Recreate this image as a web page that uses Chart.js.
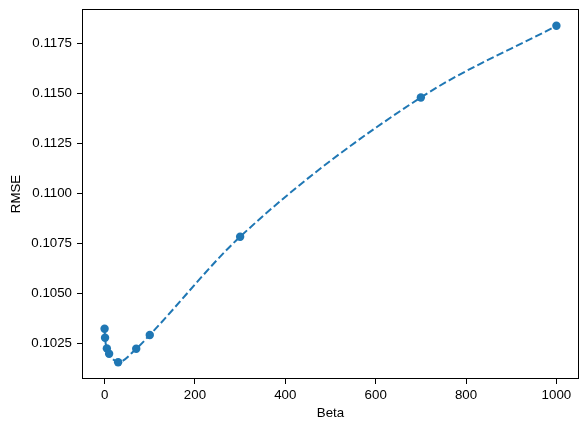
<!DOCTYPE html>
<html>
<head>
<meta charset="utf-8">
<script src="https://cdn.jsdelivr.net/npm/chart.js@4/dist/chart.umd.min.js"></script>
<style>
    html, body { margin: 0; padding: 0; background: #ffffff; }
    #wrap { width: 587px; height: 432px; }
</style>
</head>
<body>
<div id="wrap"><canvas id="chart" width="587" height="432"></canvas></div>
<script>
// Values
var beta = [0, 1, 5, 10, 30, 70, 100, 300, 700, 1000];
var rmse = [0.10323, 0.10278, 0.10225, 0.10198, 0.10156, 0.10223, 0.10292, 0.10783, 0.11479, 0.11837];

var x_ticks = [0, 200, 400, 600, 800, 1000];
var y_ticks = [0.1025, 0.1050, 0.1075, 0.1100, 0.1125, 0.1150, 0.1175];

var blue = "#1f77b4";
var font_family = "'Liberation Sans', Arial, sans-serif";

// Same 5% auto margins as the original plot
function padded_range (values) {
    var lo = Math.min.apply(null, values);
    var hi = Math.max.apply(null, values);
    var pad = (hi - lo) * 0.05;

    return [lo - pad, hi + pad];
}

var x_range = padded_range(beta);
var y_range = padded_range(rmse);

var points = beta.map(function (b, i) {
    return {"x": b, "y": rmse[i]};
});

// Draw the full box round the plot area, like the spines
var frame_plugin = {
    "id": "frame",
    "afterDraw": function (chart) {
        var area = chart.chartArea;
        var ctx = chart.ctx;

        ctx.save();
        ctx.strokeStyle = "#000000";
        ctx.lineWidth = 1;
        ctx.strokeRect(Math.round(area.left) + 0.5, Math.round(area.top) + 0.5,
            Math.round(area.right - area.left) - 1, Math.round(area.bottom - area.top) - 1);
        ctx.restore();
    }
};

new Chart(document.getElementById("chart").getContext("2d"), {
    "type": "line",
    "data": {
        "datasets": [{
            "data": points,
            "borderColor": blue,
            "backgroundColor": blue,
            "borderWidth": 2,
            "borderDash": [7.5, 3.3],
            "cubicInterpolationMode": "monotone",
            "pointRadius": 4.2,
            "pointBorderWidth": 0,
            "pointBackgroundColor": blue,
            "fill": false
        }]
    },
    "options": {
        "responsive": false,
        "animation": false,
        "devicePixelRatio": 1,
        "layout": {
            "padding": {"top": 9, "right": 8, "left": 0, "bottom": 0}
        },
        "scales": {
            "x": {
                "type": "linear",
                "min": x_range[0],
                "max": x_range[1],
                "afterFit": function (scale) {
                    scale.height = 53;
                    scale.paddingLeft = 0;
                    scale.paddingRight = 0;
                },
                "afterBuildTicks": function (scale) {
                    scale.ticks = x_ticks.map(function (v) { return {"value": v}; });
                },
                "border": {"display": false},
                "grid": {
                    "drawOnChartArea": false,
                    "drawTicks": true,
                    "tickLength": 5,
                    "tickColor": "#000000",
                    "tickWidth": 1
                },
                "ticks": {
                    "color": "#000000",
                    "padding": 3,
                    "maxRotation": 0,
                    "font": {"family": font_family, "size": 13.3},
                    "callback": function (v) { return String(v); }
                },
                "title": {
                    "display": true,
                    "text": "Beta",
                    "color": "#000000",
                    "padding": {"top": 0, "bottom": 11},
                    "font": {"family": font_family, "size": 13.3}
                }
            },
            "y": {
                "type": "linear",
                "min": y_range[0],
                "max": y_range[1],
                "afterFit": function (scale) {
                    scale.width = 82;
                    scale.paddingTop = 0;
                    scale.paddingBottom = 0;
                },
                "afterBuildTicks": function (scale) {
                    scale.ticks = y_ticks.map(function (v) { return {"value": v}; });
                },
                "border": {"display": false},
                "grid": {
                    "drawOnChartArea": false,
                    "drawTicks": true,
                    "tickLength": 5,
                    "tickColor": "#000000",
                    "tickWidth": 1
                },
                "ticks": {
                    "color": "#000000",
                    "padding": 5,
                    "font": {"family": font_family, "size": 13.3},
                    "callback": function (v) { return Number(v).toFixed(4); }
                },
                "title": {
                    "display": true,
                    "text": "RMSE",
                    "color": "#000000",
                    "padding": {"top": 8, "bottom": 0},
                    "font": {"family": font_family, "size": 13.3}
                }
            }
        },
        "plugins": {
            "legend": {"display": false},
            "tooltip": {"enabled": false},
            "title": {"display": false}
        }
    },
    "plugins": [frame_plugin]
});
</script>
</body>
</html>
